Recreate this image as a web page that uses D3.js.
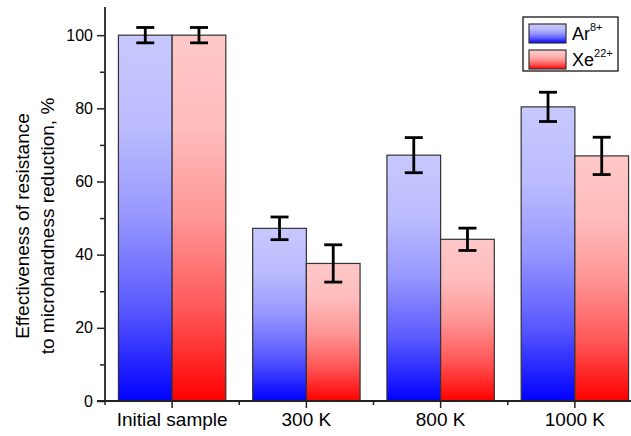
<!DOCTYPE html>
<html>
<head>
<meta charset="utf-8">
<script src="https://cdn.jsdelivr.net/npm/d3@7"></script>
<style>
  body { margin: 0; background: #fff; }
  text { font-family: Arial, "Liberation Sans", sans-serif; fill: #000; }
</style>
</head>
<body>
<div id="container"></div>
<script>
/* DATA */
const categories = ["Initial sample", "300 K", "800 K", "1000 K"];
const seriesNames = ["Ar", "Xe"];
const seriesCharges = ["8+", "22+"];
const arValues = [100, 47.2, 67.2, 80.4];
const arErrors = [2.1, 3.1, 4.8, 4.0];
const xeValues = [100, 37.6, 44.2, 67.0];
const xeErrors = [2.1, 5.1, 3.05, 5.1];
const yTicks = [0, 20, 40, 60, 80, 100];
const yMinorTicks = [10, 30, 50, 70, 90];

/* CONSTANTS AND GLOBALS */
const width = 631,
  height = 436,
  plotLeft = 105,
  plotRight = 642,
  plotTop = 7,
  plotBottom = 401;

let xScale, xSub, yScale, svg;

function init() {
  svg = d3.select("#container")
    .append("svg")
    .attr("width", width)
    .attr("height", height);

  // one gradient per series, light at top -> saturated at bottom
  const defs = svg.append("defs");
  seriesNames.forEach(s => {
    const g = defs.append("linearGradient")
      .attr("id", "grad-" + s)
      .attr("x1", 0).attr("y1", 0).attr("x2", 0).attr("y2", 1);
    [0, 0.25, 0.5, 0.75, 1].forEach(t => {
      const v = Math.round(200 * (1 - t * t));
      const c = s === "Ar" ? `rgb(${v},${v},255)` : `rgb(255,${v},${v})`;
      g.append("stop").attr("offset", t).attr("stop-color", c);
    });
  });

  /* SCALES */
  xScale = d3.scaleBand()
    .domain(categories)
    .range([plotLeft, plotRight])
    .paddingInner(0.2)
    .paddingOuter(0.1);

  xSub = d3.scaleBand()
    .domain(seriesNames)
    .range([0, xScale.bandwidth()]);

  yScale = d3.scaleLinear()
    .domain([0, 107.7])
    .range([plotBottom, plotTop]);

  draw();
}

function draw() {
  const rows = categories.map((c, i) => ({
    cat: c,
    vals: [
      { s: "Ar", v: arValues[i], e: arErrors[i] },
      { s: "Xe", v: xeValues[i], e: xeErrors[i] }
    ]
  }));

  const groups = svg.selectAll(".grp")
    .data(rows)
    .join("g")
    .attr("class", "grp")
    .attr("transform", d => `translate(${xScale(d.cat)},0)`);

  groups.selectAll(".bar")
    .data(d => d.vals)
    .join("rect")
    .attr("class", "bar")
    .attr("x", d => xSub(d.s))
    .attr("y", d => yScale(d.v))
    .attr("width", xSub.bandwidth())
    .attr("height", d => yScale(0) - yScale(d.v))
    .attr("fill", d => `url(#grad-${d.s})`)
    .attr("stroke", "#333")
    .attr("stroke-width", 1.2);

  // error bars
  const cap = 9;
  const err = groups.selectAll(".err")
    .data(d => d.vals)
    .join("g")
    .attr("class", "err")
    .attr("stroke", "#000")
    .attr("stroke-width", 2.8);
  const cx = d => xSub(d.s) + xSub.bandwidth() / 2;
  err.append("line")
    .attr("x1", cx).attr("x2", cx)
    .attr("y1", d => yScale(d.v + d.e))
    .attr("y2", d => yScale(d.v - d.e));
  err.append("line")
    .attr("x1", d => cx(d) - cap).attr("x2", d => cx(d) + cap)
    .attr("y1", d => yScale(d.v + d.e))
    .attr("y2", d => yScale(d.v + d.e));
  err.append("line")
    .attr("x1", d => cx(d) - cap).attr("x2", d => cx(d) + cap)
    .attr("y1", d => yScale(d.v - d.e))
    .attr("y2", d => yScale(d.v - d.e));

  /* AXES */
  const axisColor = "#222";

  // y axis
  const yAxis = d3.axisLeft(yScale).tickValues(yTicks).tickSize(8).tickPadding(4);
  const yg = svg.append("g")
    .attr("transform", `translate(${plotLeft},0)`)
    .call(yAxis);
  yg.select(".domain").remove();
  yg.selectAll("line").attr("stroke", axisColor).attr("stroke-width", 1.5);
  yg.selectAll("text").style("font-size", "16px").style("font-family", "Arial, 'Liberation Sans', sans-serif");
  svg.append("g")
    .attr("transform", `translate(${plotLeft},0)`)
    .call(d3.axisLeft(yScale).tickValues(yMinorTicks).tickSize(5).tickFormat(""))
    .call(g => g.select(".domain").remove())
    .selectAll("line").attr("stroke", axisColor).attr("stroke-width", 1.5);
  svg.append("line")
    .attr("x1", plotLeft).attr("x2", plotLeft)
    .attr("y1", plotTop).attr("y2", plotBottom + 1)
    .attr("stroke", axisColor).attr("stroke-width", 1.8);

  // x axis
  const xAxis = d3.axisBottom(xScale).tickSize(7).tickPadding(5);
  const xg = svg.append("g")
    .attr("transform", `translate(0,${plotBottom})`)
    .call(xAxis);
  xg.select(".domain").remove();
  xg.selectAll("line").attr("stroke", axisColor).attr("stroke-width", 1.5);
  xg.selectAll("text").style("font-size", "19px").style("font-family", "Arial, 'Liberation Sans', sans-serif");
  // minor ticks at the category boundaries
  const bounds = categories.map(c => xScale(c) - xScale.step() * xScale.paddingInner() / 2);
  svg.selectAll(".xminor")
    .data(bounds)
    .join("line")
    .attr("class", "xminor")
    .attr("x1", d => d).attr("x2", d => d)
    .attr("y1", plotBottom).attr("y2", plotBottom + 4)
    .attr("stroke", axisColor).attr("stroke-width", 1.5);
  svg.append("line")
    .attr("x1", plotLeft - 8).attr("x2", width)
    .attr("y1", plotBottom).attr("y2", plotBottom)
    .attr("stroke", axisColor).attr("stroke-width", 1.8);

  // y title
  const title = svg.append("text")
    .attr("transform", "translate(29,226) rotate(-90)")
    .attr("text-anchor", "middle")
    .style("font-size", "19px");
  title.append("tspan").attr("x", 0).attr("dy", 0).text("Effectiveness of resistance");
  title.append("tspan").attr("x", 0).attr("dy", 25).text("to microhardness reduction, %");

  /* LEGEND */
  const legend = svg.append("g").attr("transform", "translate(523,17)");
  legend.append("rect")
    .attr("width", 95).attr("height", 54)
    .attr("fill", "#fff").attr("stroke", "#000").attr("stroke-width", 1.2);
  seriesNames.forEach((s, i) => {
    const row = legend.append("g").attr("transform", `translate(6,${7 + i * 26})`);
    row.append("rect")
      .attr("width", 37).attr("height", 19)
      .attr("fill", `url(#grad-${s})`)
      .attr("stroke", "#333").attr("stroke-width", 1.2);
    const t = row.append("text")
      .attr("x", 43).attr("y", 16)
      .style("font-size", "18px");
    t.append("tspan").text(s);
    t.append("tspan").attr("dy", -9).style("font-size", "11px").text(seriesCharges[i]);
  });
}

init();
</script>
</body>
</html>
